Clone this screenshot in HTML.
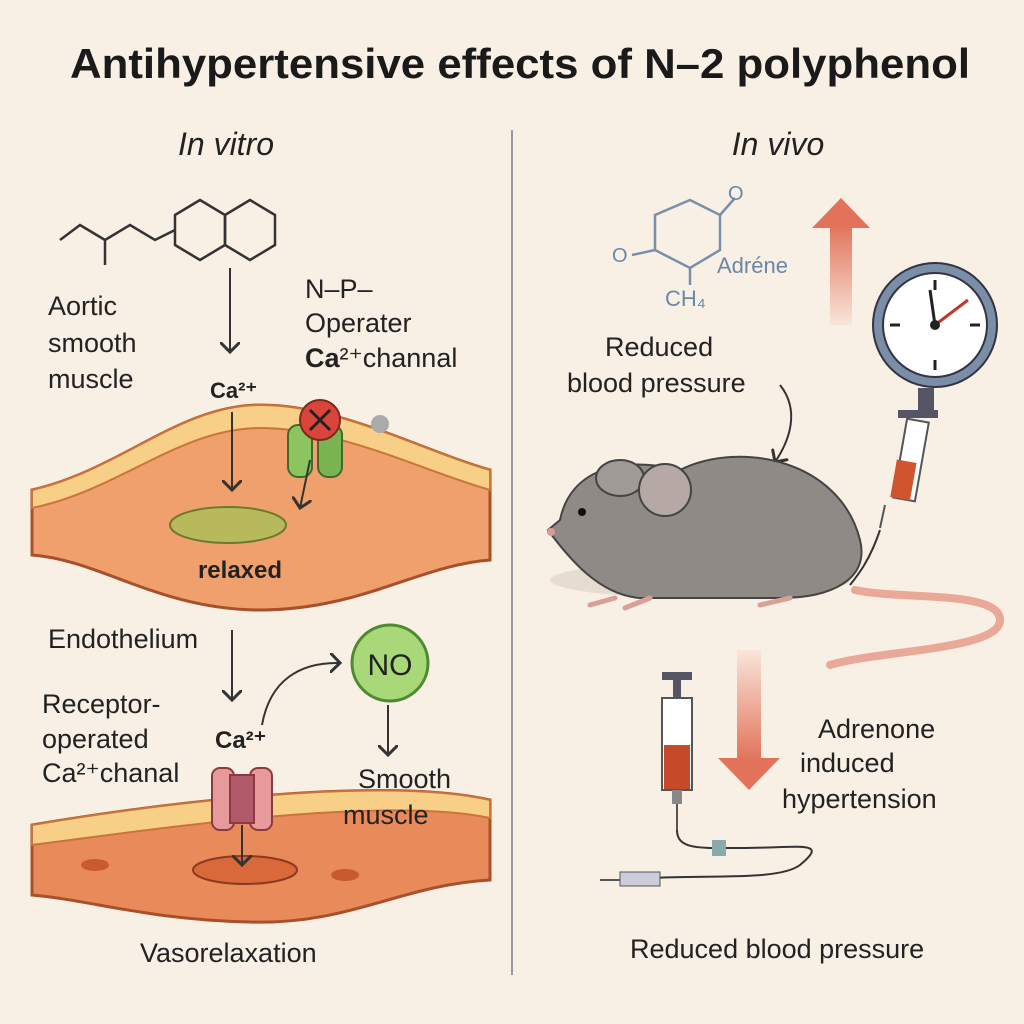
<!DOCTYPE html>
<html><head><meta charset="utf-8"><style>
body{margin:0;background:#f8f0e5;}
svg{display:block;font-family:"Liberation Sans",sans-serif;}
</style></head><body>
<svg width="1024" height="1024" viewBox="0 0 1024 1024">
<defs>
<linearGradient id="up" x1="0" y1="1" x2="0" y2="0"><stop offset="0" stop-color="#f8e6da"/><stop offset="1" stop-color="#e2735a"/></linearGradient>
<linearGradient id="dn" x1="0" y1="0" x2="0" y2="1"><stop offset="0" stop-color="#f8e6da"/><stop offset="1" stop-color="#e2735a"/></linearGradient>
<marker id="ah" markerWidth="10" markerHeight="10" refX="5" refY="5" orient="auto"><path d="M0,0 L5,5 L0,10" fill="none" stroke="#333" stroke-width="1.5"/></marker>
</defs>
<rect width="1024" height="1024" fill="#f8f0e5"/>
<text x="520" y="78" text-anchor="middle" font-size="42" font-weight="bold" fill="#1a1a1a" textLength="900" lengthAdjust="spacingAndGlyphs">Antihypertensive effects of N–2 polyphenol</text>
<line x1="512" y1="130" x2="512" y2="975" stroke="#999" stroke-width="2"/>
<text x="226" y="155" text-anchor="middle" font-size="32" font-style="italic" fill="#222">In vitro</text>
<text x="778" y="155" text-anchor="middle" font-size="32" font-style="italic" fill="#222">In vivo</text>

<!-- left molecule -->
<g fill="none" stroke="#333" stroke-width="2.5">
<path d="M60,240 L80,225 L105,240 L130,225 L155,240 L175,230"/>
<line x1="105" y1="240" x2="105" y2="265"/>
<polygon points="175,215 200,200 225,215 225,245 200,260 175,245"/>
<polygon points="225,215 250,200 275,215 275,245 250,260 225,245"/>
</g>
<g font-size="27" fill="#222">
<text x="48" y="315">Aortic</text><text x="48" y="352">smooth</text><text x="48" y="388">muscle</text>
<text x="305" y="298">N–P–</text><text x="305" y="332">Operater</text><text x="305" y="367"><tspan font-weight="bold">Ca</tspan>²⁺channal</text>
</g>
<line x1="230" y1="268" x2="230" y2="352" stroke="#333" stroke-width="2" marker-end="url(#ah)"/>
<text x="210" y="398" font-size="22" font-weight="bold" fill="#222">Ca²⁺</text>

<!-- tissue 1 -->
<path d="M32,490 C120,470 180,405 260,405 C340,405 420,450 490,470 L490,560 C420,565 360,610 260,610 C160,610 100,560 32,555 Z" fill="#f0a06c" stroke="#a8502a" stroke-width="3"/>
<path d="M32,490 C120,470 180,405 260,405 C340,405 420,450 490,470 L490,490 C420,470 340,428 260,428 C180,428 120,490 32,508 Z" fill="#f8cf86" stroke="#c9753a" stroke-width="2"/>
<ellipse cx="228" cy="525" rx="58" ry="18" fill="#b7b95c" stroke="#6e7a2a" stroke-width="2"/>
<text x="240" y="578" text-anchor="middle" font-size="24" font-weight="bold" fill="#222">relaxed</text>
<line x1="232" y1="412" x2="232" y2="490" stroke="#333" stroke-width="2" marker-end="url(#ah)"/>
<rect x="288" y="425" width="24" height="52" rx="10" fill="#8cc460" stroke="#3d6b2a" stroke-width="2"/>
<rect x="318" y="425" width="24" height="52" rx="10" fill="#7ab450" stroke="#3d6b2a" stroke-width="2"/>
<circle cx="320" cy="420" r="20" fill="#d9453a" stroke="#7a2a20" stroke-width="2"/>
<path d="M310,410 L330,430 M330,410 L310,430" stroke="#222" stroke-width="3"/>
<circle cx="380" cy="424" r="9" fill="#aaa"/>
<line x1="310" y1="460" x2="300" y2="508" stroke="#333" stroke-width="2" marker-end="url(#ah)"/>

<!-- bottom left -->
<text x="48" y="648" font-size="27" fill="#222">Endothelium</text>
<line x1="232" y1="630" x2="232" y2="700" stroke="#333" stroke-width="2" marker-end="url(#ah)"/>
<g font-size="27" fill="#222">
<text x="42" y="713">Receptor-</text><text x="42" y="748">operated</text><text x="42" y="782">Ca²⁺chanal</text>
</g>
<text x="215" y="748" font-size="24" font-weight="bold" fill="#222">Ca²⁺</text>
<path d="M262,725 C270,680 300,662 340,663" fill="none" stroke="#333" stroke-width="2" marker-end="url(#ah)"/>
<circle cx="390" cy="663" r="38" fill="#a8d878" stroke="#4f8a30" stroke-width="3"/>
<text x="390" y="675" text-anchor="middle" font-size="30" fill="#222">NO</text>
<line x1="388" y1="705" x2="388" y2="755" stroke="#333" stroke-width="2" marker-end="url(#ah)"/>
<path d="M32,825 C150,805 380,775 490,800 L490,880 C400,885 350,925 250,922 C150,920 90,900 32,895 Z" fill="#e98a5a" stroke="#a8502a" stroke-width="3"/>
<path d="M32,825 C150,805 380,775 490,800 L490,818 C380,795 150,830 32,845 Z" fill="#f8cf86" stroke="#c9753a" stroke-width="2"/>
<ellipse cx="245" cy="870" rx="52" ry="14" fill="#d9683a" stroke="#8a3a20" stroke-width="2"/>
<ellipse cx="95" cy="865" rx="14" ry="6" fill="#c85a30"/>
<ellipse cx="345" cy="875" rx="14" ry="6" fill="#c85a30"/>
<rect x="212" y="768" width="22" height="62" rx="8" fill="#e89a9a" stroke="#8a3a40" stroke-width="2"/>
<rect x="250" y="768" width="22" height="62" rx="8" fill="#e89a9a" stroke="#8a3a40" stroke-width="2"/>
<rect x="230" y="775" width="24" height="48" fill="#b05a6a" stroke="#8a3a40" stroke-width="2"/>
<line x1="242" y1="825" x2="242" y2="865" stroke="#333" stroke-width="2" marker-end="url(#ah)"/>
<g font-size="27" fill="#222">
<text x="358" y="788">Smooth</text><text x="343" y="824">muscle</text>
</g>
<text x="140" y="962" font-size="27" fill="#222">Vasorelaxation</text>

<!-- right molecule -->
<g fill="none" stroke="#7890a8" stroke-width="2.5">
<polygon points="655,215 690,200 720,215 720,250 690,268 655,250"/>
<line x1="720" y1="215" x2="735" y2="198"/><line x1="655" y1="250" x2="632" y2="255"/><line x1="690" y1="268" x2="690" y2="285"/>
</g>
<text x="728" y="200" font-size="20" fill="#6a88a8">O</text>
<text x="612" y="262" font-size="20" fill="#6a88a8">O</text>
<text x="717" y="273" font-size="22" fill="#6a88a8">Adréne</text>
<text x="665" y="306" font-size="22" fill="#6a88a8">CH₄</text>
<text x="605" y="356" font-size="27" fill="#222">Reduced</text>
<text x="567" y="392" font-size="27" fill="#222">blood pressure</text>
<path d="M780,385 C800,410 790,440 775,462" fill="none" stroke="#333" stroke-width="2" marker-end="url(#ah)"/>
<rect x="830" y="225" width="22" height="100" fill="url(#up)"/>
<polygon points="812,228 841,198 870,228" fill="#e2735a"/>

<!-- gauge -->
<circle cx="935" cy="325" r="62" fill="#7a8ea8" stroke="#334" stroke-width="2"/>
<circle cx="935" cy="325" r="52" fill="#fff" stroke="#334" stroke-width="2"/>
<g stroke="#222" stroke-width="3">
<line x1="935" y1="280" x2="935" y2="290"/><line x1="935" y1="360" x2="935" y2="370"/>
<line x1="890" y1="325" x2="900" y2="325"/><line x1="970" y1="325" x2="980" y2="325"/>
</g>
<line x1="935" y1="325" x2="968" y2="300" stroke="#c0392b" stroke-width="3"/>
<line x1="935" y1="325" x2="930" y2="290" stroke="#222" stroke-width="3"/>
<circle cx="935" cy="325" r="5" fill="#222"/>
<rect x="918" y="388" width="16" height="22" fill="#556"/>
<rect x="898" y="410" width="40" height="8" fill="#556"/>
<rect x="900" y="420" width="22" height="80" fill="#fff" stroke="#555" stroke-width="2" transform="rotate(10 911 460)"/>
<rect x="897" y="462" width="20" height="38" fill="#d0552f" transform="rotate(10 911 460)"/>
<line x1="885" y1="505" x2="880" y2="528" stroke="#555" stroke-width="2"/>
<path d="M880,530 C870,560 858,575 850,585" fill="none" stroke="#333" stroke-width="2"/>

<!-- rat -->
<path d="M855,590 C900,600 1000,590 1000,620 C1000,650 880,650 830,665" fill="none" stroke="#e9a898" stroke-width="8" stroke-linecap="round"/>
<ellipse cx="700" cy="580" rx="150" ry="18" fill="#e6dccf"/>
<path d="M560,520 C570,470 620,455 680,470 C740,440 840,460 860,540 C870,580 830,598 780,598 L640,598 C600,595 570,560 548,530 Z" fill="#8f8a86" stroke="#444" stroke-width="2"/>
<ellipse cx="620" cy="478" rx="24" ry="18" fill="#a09a96" stroke="#444" stroke-width="2"/>
<ellipse cx="665" cy="490" rx="26" ry="26" fill="#b6a8a4" stroke="#444" stroke-width="2"/>
<circle cx="582" cy="512" r="4" fill="#111"/>
<circle cx="551" cy="532" r="4" fill="#d99"/>
<path d="M590,605 L615,598 M625,608 L650,598 M760,605 L790,598" stroke="#d9a098" stroke-width="5" stroke-linecap="round"/>

<!-- down arrow -->
<rect x="737" y="650" width="24" height="110" fill="url(#dn)"/>
<polygon points="718,758 749,790 780,758" fill="#e2735a"/>
<text x="818" y="738" font-size="27" fill="#222">Adrenone</text>
<text x="800" y="772" font-size="27" fill="#222">induced</text>
<text x="782" y="808" font-size="27" fill="#222">hypertension</text>

<!-- syringe -->
<rect x="662" y="672" width="30" height="8" fill="#556"/>
<rect x="673" y="680" width="8" height="18" fill="#556"/>
<rect x="662" y="698" width="30" height="92" fill="#fff" stroke="#555" stroke-width="2"/>
<rect x="664" y="745" width="26" height="44" fill="#c64a2a"/>
<rect x="672" y="790" width="10" height="14" fill="#888"/>
<line x1="677" y1="804" x2="677" y2="830" stroke="#555" stroke-width="2"/>
<path d="M677,830 C677,850 700,848 740,848 C800,848 830,840 800,865 C780,880 720,875 650,878" fill="none" stroke="#333" stroke-width="2"/>
<rect x="712" y="840" width="14" height="16" fill="#8aa"/>
<rect x="620" y="872" width="40" height="14" fill="#ccd" stroke="#555"/>
<line x1="600" y1="880" x2="620" y2="880" stroke="#555" stroke-width="2"/>
<text x="630" y="958" font-size="27" fill="#222">Reduced blood pressure</text>
</svg>
</body></html>
